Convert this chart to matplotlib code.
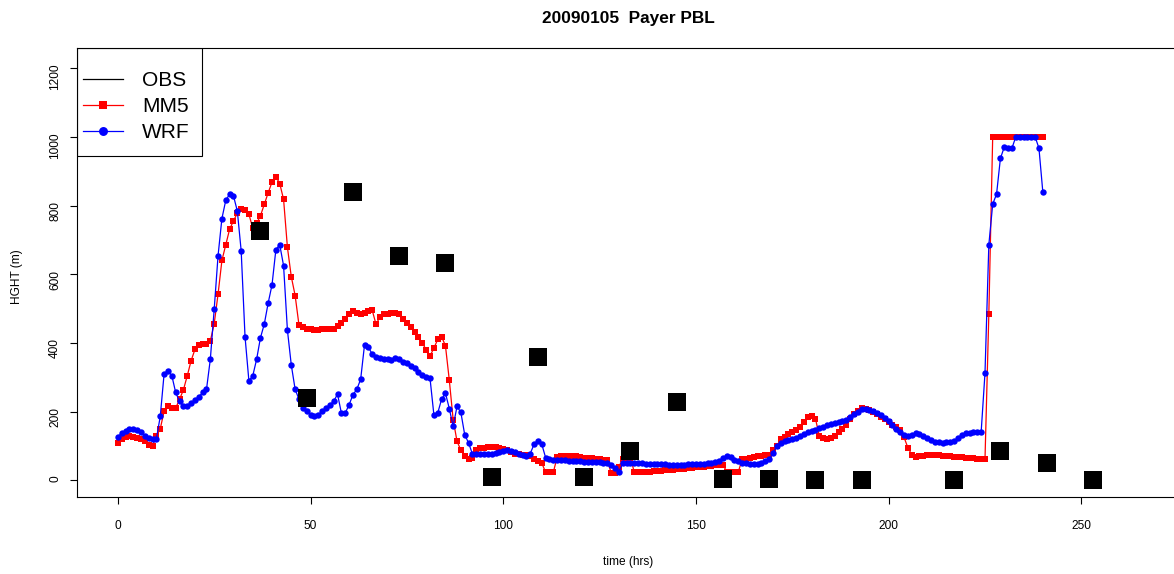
import matplotlib
matplotlib.use('Agg')
import matplotlib.pyplot as plt
from matplotlib.lines import Line2D
from matplotlib.patches import Rectangle
import numpy as np

plt.rcParams['font.family'] = ['Liberation Sans', 'DejaVu Sans']

# hourly model PBL heights (m), forecast hours 0..240
hours = np.arange(0, 241)

mm5 = [109, 119, 126, 130, 126, 123, 119, 114, 104, 101,
       128, 150, 201, 217, 212, 210, 236, 263, 304, 348,
       381, 394, 397, 398, 406, 456, 542, 640, 686, 731,
       755, 778, 789, 788, 775, 734, 748, 770, 804, 837,
       868, 884, 864, 818, 678, 593, 538, 452, 447, 442,
       440, 439, 439, 440, 440, 441, 442, 449, 458, 471,
       485, 492, 487, 485, 487, 494, 495, 454, 476, 483,
       485, 487, 488, 485, 471, 458, 447, 432, 416, 400,
       380, 362, 385, 410, 418, 392, 292, 177, 114, 88,
       72, 63, 64, 88, 93, 95, 97, 98, 97, 95,
       92, 88, 82, 78, 76, 75, 73, 70, 62, 55,
       50, 24, 24, 24, 68, 70, 72, 72, 71, 70,
       68, 66, 65, 64, 63, 62, 60, 58, 22, 22,
       40, 62, 66, 66, 24, 24, 23, 24, 25, 27,
       28, 28, 30, 31, 31, 33, 34, 34, 36, 37,
       38, 38, 40, 41, 43, 44, 46, 46, 25, 24,
       24, 25, 62, 63, 65, 68, 70, 72, 73, 75,
       88, 100, 120, 126, 135, 142, 148, 155, 170, 185,
       187, 180, 130, 122, 120, 122, 128, 140, 150, 162,
       180, 192, 203, 212, 208, 205, 200, 192, 185, 178,
       170, 162, 155, 148, 125, 95, 75, 68, 70, 72,
       73, 74, 74, 73, 72, 71, 70, 69, 68, 67,
       66, 65, 64, 63, 62, 61, 485, 1000, 1000, 1000,
       1000, 1000, 1000, 1000, 1000, 1000, 1000, 1000, 1000, 1000, 1000]

wrf = [126, 138, 145, 150, 150, 148, 140, 130, 123, 119,
       121, 186, 310, 319, 305, 256, 230, 215, 217, 225,
       234, 243, 256, 265, 353, 498, 654, 762, 815, 833,
       828, 784, 668, 418, 290, 304, 352, 415, 455, 516,
       569, 671, 686, 625, 437, 336, 265, 236, 210, 201,
       191, 186, 191, 201, 210, 220, 230, 251, 196, 196,
       220, 249, 265, 294, 394, 387, 368, 360, 355, 352,
       352, 350, 355, 352, 345, 341, 333, 326, 316, 307,
       302, 297, 191, 196, 236, 254, 209, 157, 215, 198,
       133, 109, 77, 76, 76, 77, 77, 78, 80, 83,
       86, 88, 86, 82, 78, 74, 72, 78, 105, 115,
       105, 66, 62, 60, 60, 59, 58, 57, 56, 55,
       55, 54, 54, 54, 53, 53, 52, 50, 45, 35,
       25, 50, 52, 50, 50, 51, 50, 49, 49, 48,
       48, 47, 47, 46, 46, 45, 46, 46, 47, 47,
       48, 48, 49, 50, 51, 53, 55, 66, 70, 68,
       60, 55, 52, 50, 49, 48, 49, 51, 55, 62,
       80, 100, 110, 114, 118, 121, 124, 128, 136, 140,
       144, 148, 152, 156, 160, 163, 166, 169, 172, 176,
       184, 192, 200, 207, 209, 206, 202, 196, 190, 182,
       172, 160, 150, 140, 133, 130, 133, 137, 135, 128,
       122, 117, 113, 111, 110, 111, 112, 115, 122, 132,
       137, 139, 140, 141, 140, 312, 686, 804, 833, 937,
       970, 966, 967, 1000, 1000, 1000, 1000, 1000, 1000, 967, 840]

# 12-hourly observations (NaN = no sounding)
obs_hours = [1, 13, 25, 37, 49, 61, 73, 85, 97, 109, 121,
             133, 145, 157, 169, 181, 193, 205, 217, 229, 241, 253]
obs_hght = [np.nan, np.nan, np.nan, 725, 241, 839, 654, 633, 11, 359, 11,
            86, 228, 4, 3, 2, 2, np.nan, 1, 86, 51, 1]

fig = plt.figure(figsize=(11.74, 5.74), dpi=100)
ax = fig.add_axes([77 / 1174, 77 / 574, 1103 / 1174, 449 / 574])

ax.plot(hours, mm5, color='#ff0000', lw=0.9, marker='s', ms=4.4, mew=0, zorder=2)
ax.plot(hours, wrf, color='#0000ff', lw=0.9, marker='o', ms=4.6, mew=0, zorder=2)
ax.plot(obs_hours, obs_hght, ls='none', marker='s', ms=13, mew=0, color='black', zorder=3)

ax.set_xlim(-10.6, 275.6)
ax.set_ylim(-48.4, 1258.4)
ax.set_xticks([0, 50, 100, 150, 200, 250])
ax.set_yticks([0, 200, 400, 600, 800, 1000, 1200])
ax.tick_params(direction='out', length=5, width=0.8, labelsize=8.6, colors='black')
ax.tick_params(axis='x', pad=11.5)
ax.tick_params(axis='y', labelrotation=90, pad=6.5)
for s in ax.spines.values():
    s.set_linewidth(0.8)

ax.set_xlabel('time (hrs)', fontsize=8.6)
ax.set_ylabel('HGHT (m)', fontsize=8.6)
ax.xaxis.set_label_coords(0.5, -0.131)
ax.yaxis.set_label_coords(-0.049, 0.49)

fig.text(628 / 1174, 1 - 18 / 574, '20090105  Payer PBL', ha='center', va='center',
         fontsize=12.4, fontweight='bold')

# legend: R-style box in the top-left corner
handles = [Line2D([], [], color='black', lw=0.9),
           Line2D([], [], color='#ff0000', lw=0.9, marker='s', ms=4.4, mew=0),
           Line2D([], [], color='#0000ff', lw=0.9, marker='o', ms=4.6, mew=0)]
ax.legend(handles, ['OBS', 'MM5', 'WRF'], loc='upper left',
          bbox_to_anchor=(6 / 1103, 1 - 23 / 449), frameon=False, fontsize=15,
          handlelength=1.9, handletextpad=0.95, labelspacing=0.34,
          borderpad=0, borderaxespad=0, markerscale=1.4, numpoints=1)
ax.add_patch(Rectangle((0, 1 - 108 / 449), 125 / 1103, 108 / 449, transform=ax.transAxes,
                       fill=False, lw=0.8, edgecolor='black', zorder=4))

fig.savefig('out.png', dpi=100)
